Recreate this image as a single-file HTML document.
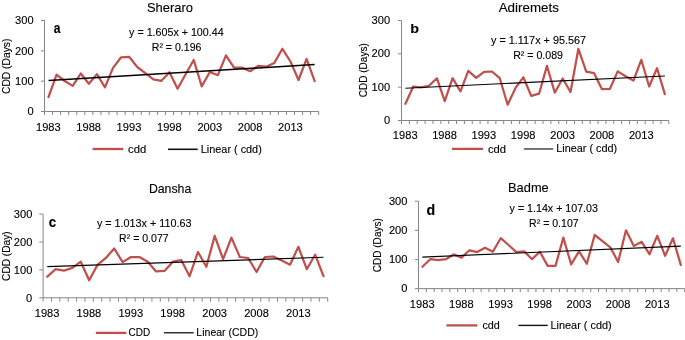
<!DOCTYPE html>
<html><head><meta charset="utf-8"><style>
html,body{margin:0;padding:0;background:#fff;}
body{width:685px;height:340px;overflow:hidden;}
svg{display:block;will-change:transform;}
text{font-family:"Liberation Sans", sans-serif;fill:#000;stroke:#000;stroke-width:0.12px;}
</style></head><body>
<svg width="685" height="340" viewBox="0 0 685 340">
<rect width="685" height="340" fill="#fff"/>
<path d="M44.5 20.5V111.5H318.7" fill="none" stroke="#868686" stroke-width="1"/>
<path d="M41 111.5H44.5M41 81.17H44.5M41 50.83H44.5M41 20.5H44.5M44.5 111.5V115M52.56 111.5V115M60.63 111.5V115M68.69 111.5V115M76.76 111.5V115M84.82 111.5V115M92.89 111.5V115M100.95 111.5V115M109.02 111.5V115M117.08 111.5V115M125.15 111.5V115M133.21 111.5V115M141.28 111.5V115M149.34 111.5V115M157.41 111.5V115M165.47 111.5V115M173.54 111.5V115M181.6 111.5V115M189.66 111.5V115M197.73 111.5V115M205.79 111.5V115M213.86 111.5V115M221.92 111.5V115M229.99 111.5V115M238.05 111.5V115M246.12 111.5V115M254.18 111.5V115M262.25 111.5V115M270.31 111.5V115M278.38 111.5V115M286.44 111.5V115M294.51 111.5V115M302.57 111.5V115M310.64 111.5V115M318.7 111.5V115" fill="none" stroke="#868686" stroke-width="1"/>
<polyline points="48.53,97 56.6,74.7 64.66,81 72.73,85.9 80.79,73.5 88.86,83.8 96.92,74.1 104.99,87.3 113.05,67.9 121.11,57.3 129.18,56.8 137.24,67 145.31,73.2 153.37,79.4 161.44,80.8 169.5,72.3 177.57,88.7 185.63,74.3 193.7,60 201.76,86.4 209.83,72 217.89,75.2 225.96,55.3 234.02,67.6 242.09,67.6 250.15,71.2 258.21,65.9 266.28,66.7 274.34,62.9 282.41,48.8 290.47,61.5 298.54,80 306.6,58.8 314.67,81.2" fill="none" stroke="#C0504D" stroke-width="2.25" stroke-linejoin="round" stroke-linecap="round"/>
<line x1="48.53" y1="80.55" x2="314.67" y2="64.48" stroke="#000" stroke-width="1.5"/>
<path d="M401.5 20.5V120.5H668.8" fill="none" stroke="#868686" stroke-width="1"/>
<path d="M398 120.5H401.5M398 87.17H401.5M398 53.83H401.5M398 20.5H401.5M401.5 120.5V124M409.36 120.5V124M417.22 120.5V124M425.09 120.5V124M432.95 120.5V124M440.81 120.5V124M448.67 120.5V124M456.53 120.5V124M464.39 120.5V124M472.26 120.5V124M480.12 120.5V124M487.98 120.5V124M495.84 120.5V124M503.7 120.5V124M511.56 120.5V124M519.43 120.5V124M527.29 120.5V124M535.15 120.5V124M543.01 120.5V124M550.87 120.5V124M558.74 120.5V124M566.6 120.5V124M574.46 120.5V124M582.32 120.5V124M590.18 120.5V124M598.04 120.5V124M605.91 120.5V124M613.77 120.5V124M621.63 120.5V124M629.49 120.5V124M637.35 120.5V124M645.21 120.5V124M653.08 120.5V124M660.94 120.5V124M668.8 120.5V124" fill="none" stroke="#868686" stroke-width="1"/>
<polyline points="405.43,103.8 413.29,86.5 421.15,87.4 429.02,85.8 436.88,78.2 444.74,101.1 452.6,78.2 460.46,91.4 468.32,70.8 476.19,77.9 484.05,71.8 491.91,71.5 499.77,78.2 507.63,104.7 515.5,87.9 523.36,77.3 531.22,95.9 539.08,93.7 546.94,65.9 554.8,92.7 562.67,78.5 570.53,92 578.39,48.8 586.25,71.7 594.11,73.2 601.97,89.2 609.84,89 617.7,71.4 625.56,76.2 633.42,80.6 641.28,59.8 649.15,86.5 657.01,68.2 664.87,94.1" fill="none" stroke="#C0504D" stroke-width="2.25" stroke-linejoin="round" stroke-linecap="round"/>
<line x1="405.43" y1="88.27" x2="664.87" y2="75.99" stroke="#000" stroke-width="1.1"/>
<path d="M43.1 214.1V297.8H327.7" fill="none" stroke="#868686" stroke-width="1"/>
<path d="M39.3 297.8H43.1M39.3 269.9H43.1M39.3 242H43.1M39.3 214.1H43.1M43.1 297.8V301.6M51.47 297.8V301.6M59.84 297.8V301.6M68.21 297.8V301.6M76.58 297.8V301.6M84.95 297.8V301.6M93.32 297.8V301.6M101.69 297.8V301.6M110.06 297.8V301.6M118.44 297.8V301.6M126.81 297.8V301.6M135.18 297.8V301.6M143.55 297.8V301.6M151.92 297.8V301.6M160.29 297.8V301.6M168.66 297.8V301.6M177.03 297.8V301.6M185.4 297.8V301.6M193.77 297.8V301.6M202.14 297.8V301.6M210.51 297.8V301.6M218.88 297.8V301.6M227.25 297.8V301.6M235.62 297.8V301.6M243.99 297.8V301.6M252.36 297.8V301.6M260.74 297.8V301.6M269.11 297.8V301.6M277.48 297.8V301.6M285.85 297.8V301.6M294.22 297.8V301.6M302.59 297.8V301.6M310.96 297.8V301.6M319.33 297.8V301.6M327.7 297.8V301.6" fill="none" stroke="#868686" stroke-width="1"/>
<polyline points="47.29,276.7 55.66,269.2 64.03,270.6 72.4,267.9 80.77,261.7 89.14,280.3 97.51,264.9 105.88,257.9 114.25,248.5 122.62,262.1 130.99,257 139.36,257 147.73,261.7 156.1,271.4 164.47,270.9 172.84,261.7 181.21,260 189.59,276.2 197.96,252 206.33,266.7 214.7,235.9 223.07,259.2 231.44,237.6 239.81,257 248.18,258 256.55,272 264.92,257 273.29,256.5 281.66,260.5 290.03,264.7 298.4,246.8 306.77,269.2 315.14,254.7 323.51,276.2" fill="none" stroke="#C0504D" stroke-width="2.25" stroke-linejoin="round" stroke-linecap="round"/>
<line x1="47.29" y1="266.65" x2="323.51" y2="257.32" stroke="#000" stroke-width="1.1"/>
<path d="M418.5 201.2V288.6H684.7" fill="none" stroke="#868686" stroke-width="1"/>
<path d="M415 288.6H418.5M415 259.47H418.5M415 230.33H418.5M415 201.2H418.5M418.5 288.6V292.1M426.33 288.6V292.1M434.16 288.6V292.1M441.99 288.6V292.1M449.82 288.6V292.1M457.65 288.6V292.1M465.48 288.6V292.1M473.31 288.6V292.1M481.14 288.6V292.1M488.96 288.6V292.1M496.79 288.6V292.1M504.62 288.6V292.1M512.45 288.6V292.1M520.28 288.6V292.1M528.11 288.6V292.1M535.94 288.6V292.1M543.77 288.6V292.1M551.6 288.6V292.1M559.43 288.6V292.1M567.26 288.6V292.1M575.09 288.6V292.1M582.92 288.6V292.1M590.75 288.6V292.1M598.58 288.6V292.1M606.41 288.6V292.1M614.24 288.6V292.1M622.06 288.6V292.1M629.89 288.6V292.1M637.72 288.6V292.1M645.55 288.6V292.1M653.38 288.6V292.1M661.21 288.6V292.1M669.04 288.6V292.1M676.87 288.6V292.1M684.7 288.6V292.1" fill="none" stroke="#868686" stroke-width="1"/>
<polyline points="422.41,266.7 430.24,259.2 438.07,260.2 445.9,259.2 453.73,254.4 461.56,257.6 469.39,250.3 477.22,252.1 485.05,247.7 492.88,251.7 500.71,238.2 508.54,245 516.37,252.1 524.2,251.4 532.03,259.2 539.86,251.7 547.69,265.9 555.51,265.9 563.34,237.6 571.17,264.4 579,251.4 586.83,263.7 594.66,235 602.49,241.2 610.32,247.3 618.15,262 625.98,230.3 633.81,245.9 641.64,241.8 649.47,254.2 657.3,235.8 665.13,255.9 672.96,238.3 680.79,264.9" fill="none" stroke="#C0504D" stroke-width="2.25" stroke-linejoin="round" stroke-linecap="round"/>
<line x1="422.41" y1="257.09" x2="680.79" y2="246.13" stroke="#000" stroke-width="1.1"/>
<line x1="92.6" y1="149.0" x2="123.3" y2="149.0" stroke="#C0504D" stroke-width="2.3"/>
<line x1="168.0" y1="149.3" x2="197.7" y2="149.3" stroke="#111" stroke-width="1.6"/>
<line x1="452.0" y1="148.9" x2="483.0" y2="148.9" stroke="#C0504D" stroke-width="2.3"/>
<line x1="523.8" y1="148.95" x2="553.2" y2="148.95" stroke="#555" stroke-width="1.6"/>
<line x1="95.8" y1="332.9" x2="126.4" y2="332.9" stroke="#C0504D" stroke-width="2.3"/>
<line x1="164.0" y1="332.8" x2="193.7" y2="332.8" stroke="#000" stroke-width="1.2"/>
<line x1="446.4" y1="325.4" x2="477.3" y2="325.4" stroke="#C0504D" stroke-width="2.3"/>
<line x1="518.4" y1="325.4" x2="547.7" y2="325.4" stroke="#111" stroke-width="1.4"/>
<text x="146.95" y="11.6" font-size="13" textLength="46.03" lengthAdjust="spacingAndGlyphs">Sheraro</text>
<text x="498.7" y="11.6" font-size="13" textLength="60.22" lengthAdjust="spacingAndGlyphs">Adiremets</text>
<text x="148.92" y="192.5" font-size="13" textLength="42.34" lengthAdjust="spacingAndGlyphs">Dansha</text>
<text x="508.07" y="192.4" font-size="13" textLength="40.65" lengthAdjust="spacingAndGlyphs">Badme</text>
<text x="129.1" y="35.5" font-size="10.3" textLength="94.53" lengthAdjust="spacingAndGlyphs">y = 1.605x + 100.44</text>
<text x="151.75" y="51.2" font-size="10.3" textLength="49.65" lengthAdjust="spacingAndGlyphs">R² = 0.196</text>
<text x="491" y="43.7" font-size="10.3" textLength="95.1" lengthAdjust="spacingAndGlyphs">y = 1.117x + 95.567</text>
<text x="513.15" y="59.2" font-size="10.3" textLength="49.85" lengthAdjust="spacingAndGlyphs">R² = 0.089</text>
<text x="96.9" y="227" font-size="10.3" textLength="94.6" lengthAdjust="spacingAndGlyphs">y = 1.013x + 110.63</text>
<text x="119.05" y="242.3" font-size="10.3" textLength="49.65" lengthAdjust="spacingAndGlyphs">R² = 0.077</text>
<text x="509.6" y="212" font-size="10.3" textLength="88.37" lengthAdjust="spacingAndGlyphs">y = 1.14x + 107.03</text>
<text x="529.05" y="227.3" font-size="10.3" textLength="49.65" lengthAdjust="spacingAndGlyphs">R² = 0.107</text>
<text x="53.84" y="33" font-size="14.2" font-weight="bold" textLength="6.72" lengthAdjust="spacingAndGlyphs">a</text>
<text x="410.39" y="33" font-size="13.6" font-weight="bold" textLength="8.8" lengthAdjust="spacingAndGlyphs">b</text>
<text x="48.87" y="227.2" font-size="14.2" font-weight="bold" textLength="7.38" lengthAdjust="spacingAndGlyphs">c</text>
<text x="426.53" y="214.6" font-size="14.2" font-weight="bold" textLength="8.68" lengthAdjust="spacingAndGlyphs">d</text>
<text x="128.05" y="152.7" font-size="11" textLength="18.15" lengthAdjust="spacingAndGlyphs">cdd</text>
<text x="200.83" y="152.6" font-size="11" textLength="60.96" lengthAdjust="spacingAndGlyphs">Linear ( cdd)</text>
<text x="487.95" y="152.6" font-size="11" textLength="18.15" lengthAdjust="spacingAndGlyphs">cdd</text>
<text x="556.33" y="152.2" font-size="11" textLength="60.76" lengthAdjust="spacingAndGlyphs">Linear ( cdd)</text>
<text x="128.6" y="335.9" font-size="11" textLength="21.67" lengthAdjust="spacingAndGlyphs">CDD</text>
<text x="196.36" y="335.6" font-size="11" textLength="61.87" lengthAdjust="spacingAndGlyphs">Linear (CDD)</text>
<text x="482.47" y="328.6" font-size="11" textLength="17.4" lengthAdjust="spacingAndGlyphs">cdd</text>
<text x="550.53" y="328.7" font-size="11" textLength="61.17" lengthAdjust="spacingAndGlyphs">Linear ( cdd)</text>
<text x="9.7" y="94.01" font-size="10.2" textLength="55.42" lengthAdjust="spacingAndGlyphs" transform="rotate(-90 9.7 94.01)">CDD (Days)</text>
<text x="366.6" y="97.3" font-size="10.2" textLength="54.09" lengthAdjust="spacingAndGlyphs" transform="rotate(-90 366.6 97.3)">CDD (Days)</text>
<text x="10.1" y="280.91" font-size="10.2" textLength="49.5" lengthAdjust="spacingAndGlyphs" transform="rotate(-90 10.1 280.91)">CDD (Day)</text>
<text x="381.3" y="272.3" font-size="10.2" textLength="54.19" lengthAdjust="spacingAndGlyphs" transform="rotate(-90 381.3 272.3)">CDD (Days)</text>
<text x="35.99" y="130.6" font-size="10.7" textLength="24.68" lengthAdjust="spacingAndGlyphs">1983</text>
<text x="76.32" y="130.6" font-size="10.7" textLength="24.68" lengthAdjust="spacingAndGlyphs">1988</text>
<text x="116.64" y="130.6" font-size="10.7" textLength="24.68" lengthAdjust="spacingAndGlyphs">1993</text>
<text x="156.97" y="130.6" font-size="10.7" textLength="24.68" lengthAdjust="spacingAndGlyphs">1998</text>
<text x="197.46" y="130.6" font-size="10.7" textLength="24.68" lengthAdjust="spacingAndGlyphs">2003</text>
<text x="237.78" y="130.6" font-size="10.7" textLength="24.68" lengthAdjust="spacingAndGlyphs">2008</text>
<text x="278.1" y="130.6" font-size="10.7" textLength="24.68" lengthAdjust="spacingAndGlyphs">2013</text>
<text x="27.43" y="115.25" font-size="10.7" textLength="6.17" lengthAdjust="spacingAndGlyphs">0</text>
<text x="15.11" y="84.91" font-size="10.7" textLength="18.51" lengthAdjust="spacingAndGlyphs">100</text>
<text x="15.11" y="54.58" font-size="10.7" textLength="18.51" lengthAdjust="spacingAndGlyphs">200</text>
<text x="15.11" y="24.25" font-size="10.7" textLength="18.51" lengthAdjust="spacingAndGlyphs">300</text>
<text x="392.89" y="139.4" font-size="10.7" textLength="24.68" lengthAdjust="spacingAndGlyphs">1983</text>
<text x="432.2" y="139.4" font-size="10.7" textLength="24.68" lengthAdjust="spacingAndGlyphs">1988</text>
<text x="471.51" y="139.4" font-size="10.7" textLength="24.68" lengthAdjust="spacingAndGlyphs">1993</text>
<text x="510.82" y="139.4" font-size="10.7" textLength="24.68" lengthAdjust="spacingAndGlyphs">1998</text>
<text x="550.29" y="139.4" font-size="10.7" textLength="24.68" lengthAdjust="spacingAndGlyphs">2003</text>
<text x="589.6" y="139.4" font-size="10.7" textLength="24.68" lengthAdjust="spacingAndGlyphs">2008</text>
<text x="628.91" y="139.4" font-size="10.7" textLength="24.68" lengthAdjust="spacingAndGlyphs">2013</text>
<text x="383.93" y="123.84" font-size="10.7" textLength="6.17" lengthAdjust="spacingAndGlyphs">0</text>
<text x="371.61" y="90.51" font-size="10.7" textLength="18.51" lengthAdjust="spacingAndGlyphs">100</text>
<text x="371.61" y="57.18" font-size="10.7" textLength="18.51" lengthAdjust="spacingAndGlyphs">200</text>
<text x="371.61" y="23.85" font-size="10.7" textLength="18.51" lengthAdjust="spacingAndGlyphs">300</text>
<text x="34.75" y="316.9" font-size="10.7" textLength="24.68" lengthAdjust="spacingAndGlyphs">1983</text>
<text x="76.6" y="316.9" font-size="10.7" textLength="24.68" lengthAdjust="spacingAndGlyphs">1988</text>
<text x="118.45" y="316.9" font-size="10.7" textLength="24.68" lengthAdjust="spacingAndGlyphs">1993</text>
<text x="160.31" y="316.9" font-size="10.7" textLength="24.68" lengthAdjust="spacingAndGlyphs">1998</text>
<text x="202.33" y="316.9" font-size="10.7" textLength="24.68" lengthAdjust="spacingAndGlyphs">2003</text>
<text x="244.18" y="316.9" font-size="10.7" textLength="24.68" lengthAdjust="spacingAndGlyphs">2008</text>
<text x="286.03" y="316.9" font-size="10.7" textLength="24.68" lengthAdjust="spacingAndGlyphs">2013</text>
<text x="26.13" y="301.55" font-size="10.7" textLength="6.17" lengthAdjust="spacingAndGlyphs">0</text>
<text x="13.81" y="273.64" font-size="10.7" textLength="18.51" lengthAdjust="spacingAndGlyphs">100</text>
<text x="13.81" y="245.75" font-size="10.7" textLength="18.51" lengthAdjust="spacingAndGlyphs">200</text>
<text x="13.81" y="217.84" font-size="10.7" textLength="18.51" lengthAdjust="spacingAndGlyphs">300</text>
<text x="409.88" y="307.8" font-size="10.7" textLength="24.68" lengthAdjust="spacingAndGlyphs">1983</text>
<text x="449.02" y="307.8" font-size="10.7" textLength="24.68" lengthAdjust="spacingAndGlyphs">1988</text>
<text x="488.17" y="307.8" font-size="10.7" textLength="24.68" lengthAdjust="spacingAndGlyphs">1993</text>
<text x="527.32" y="307.8" font-size="10.7" textLength="24.68" lengthAdjust="spacingAndGlyphs">1998</text>
<text x="566.63" y="307.8" font-size="10.7" textLength="24.68" lengthAdjust="spacingAndGlyphs">2003</text>
<text x="605.78" y="307.8" font-size="10.7" textLength="24.68" lengthAdjust="spacingAndGlyphs">2008</text>
<text x="644.93" y="307.8" font-size="10.7" textLength="24.68" lengthAdjust="spacingAndGlyphs">2013</text>
<text x="401.23" y="292.35" font-size="10.7" textLength="6.17" lengthAdjust="spacingAndGlyphs">0</text>
<text x="388.91" y="263.21" font-size="10.7" textLength="18.51" lengthAdjust="spacingAndGlyphs">100</text>
<text x="388.91" y="234.08" font-size="10.7" textLength="18.51" lengthAdjust="spacingAndGlyphs">200</text>
<text x="388.91" y="204.94" font-size="10.7" textLength="18.51" lengthAdjust="spacingAndGlyphs">300</text>
</svg>
</body></html>
